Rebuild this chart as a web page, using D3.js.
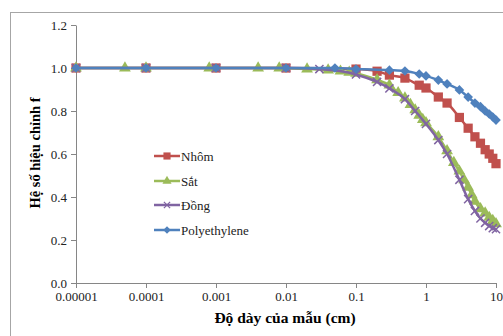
<!DOCTYPE html>
<html>
<head>
<meta charset="utf-8">
<script src="https://cdn.jsdelivr.net/npm/d3@7"></script>
<style>
  body { margin: 0; background: #fff; }
  text { font-family: "Liberation Serif", "Times New Roman", serif; }
</style>
</head>
<body>
<svg id="chart" width="503" height="336"></svg>
<script>
// data
const seriesNames = ["Nhôm", "Sắt", "Đồng", "Polyethylene"];

const nhomX = [1e-5, 1e-4, 1e-3, 1e-2, 0.1, 0.2, 0.3, 0.5, 0.8, 1, 1.5, 2, 3, 4, 5, 6, 7, 8, 9, 10];
const nhomY = [1.0, 1.0, 1.0, 1.0, 0.995, 0.985, 0.967, 0.953, 0.92, 0.907, 0.865, 0.837, 0.77, 0.72, 0.68, 0.65, 0.62, 0.60, 0.58, 0.555];

const satX = [1e-5, 5e-5, 1e-4, 8e-4, 4e-3, 8e-3, 0.02, 0.04, 0.06, 0.08, 0.1, 0.2, 0.3, 0.4, 0.5, 0.6, 0.7, 0.8, 0.9, 1,
              1.5, 2, 2.5, 3, 3.5, 4, 4.5, 5, 6, 7, 8, 9, 10];
const satY = [1.0, 1.0, 1.0, 1.0, 1.0, 1.0, 0.995, 0.99, 0.985, 0.98, 0.975, 0.945, 0.92, 0.885, 0.86, 0.83, 0.805, 0.78, 0.76, 0.745,
              0.68, 0.615, 0.56, 0.52, 0.48, 0.445, 0.41, 0.38, 0.345, 0.325, 0.305, 0.29, 0.275];

const dongX = [1e-5, 1e-4, 1e-3, 1e-2, 0.03, 0.1, 0.2, 0.3, 0.5, 0.7, 1, 1.5, 2, 3, 4, 5, 6, 7, 8, 9, 10];
const dongY = [1.0, 1.0, 1.0, 1.0, 0.995, 0.97, 0.935, 0.905, 0.855, 0.8, 0.74, 0.665, 0.6, 0.48, 0.39, 0.335, 0.3, 0.28, 0.265, 0.255, 0.25];

const peX = [1e-5, 1e-4, 1e-3, 1e-2, 0.05, 0.1, 0.3, 0.5, 0.8, 1, 1.5, 2, 3, 4, 5, 6, 7, 8, 9, 10];
const peY = [1.0, 1.0, 1.0, 1.0, 1.0, 0.995, 0.99, 0.986, 0.972, 0.963, 0.944, 0.926, 0.898, 0.865, 0.837, 0.82, 0.80, 0.786, 0.772, 0.758];

const xTicks = [1e-5, 1e-4, 1e-3, 1e-2, 0.1, 1, 10];
const xTickLabels = ["0.00001", "0.0001", "0.001", "0.01", "0.1", "1", "10"];
const yTicks = [0, 0.2, 0.4, 0.6, 0.8, 1.0, 1.2];

const colors = ["#C0504D", "#9BBB59", "#8064A2", "#4F81BD"];
const symbols = [d3.symbolSquare, d3.symbolTriangle, d3.symbolX, d3.symbolDiamond2];
const symSizes = [85, 60, 45, 60];

const svg = d3.select("#chart");

// outer chart border (runs off the right and bottom of the picture)
svg.append("rect")
  .attr("x", 10.5).attr("y", 12.5)
  .attr("width", 600).attr("height", 400)
  .attr("fill", "none").attr("stroke", "#a6a6a6");

const x = d3.scaleLog().domain([1e-5, 10]).range([76, 496]);
const y = d3.scaleLinear().domain([0, 1.2]).range([283, 25]);

// axes
const xAxis = svg.append("g")
  .attr("transform", "translate(0,283)")
  .call(d3.axisBottom(x).tickValues(xTicks).tickFormat((d, i) => xTickLabels[i]).tickSize(5).tickSizeOuter(0));
const yAxis = svg.append("g")
  .attr("transform", "translate(76,0)")
  .call(d3.axisLeft(y).tickValues(yTicks).tickFormat(d3.format(".1f")).tickSize(5).tickSizeOuter(0));

[xAxis, yAxis].forEach(a => {
  a.select(".domain").attr("stroke", "#868686");
  a.selectAll(".tick line").attr("stroke", "#868686");
  a.selectAll(".tick text")
    .attr("fill", "#222")
    .style("font-family", "'Liberation Serif', serif")
    .style("font-size", "13px");
});
xAxis.selectAll(".tick text").attr("dy", "0.71em").attr("y", 9);
yAxis.selectAll(".tick text").attr("x", -9);

// axis titles
svg.append("text")
  .attr("x", 285).attr("y", 323)
  .attr("text-anchor", "middle")
  .style("font-size", "15.5px").style("font-weight", "bold")
  .text("Độ dày của mẫu (cm)");

svg.append("text")
  .attr("transform", "translate(40,153) rotate(-90)")
  .attr("text-anchor", "middle")
  .style("font-size", "14.5px").style("font-weight", "bold")
  .text("Hệ số hiệu chỉnh f");

// series
const allX = [nhomX, satX, dongX, peX];
const allY = [nhomY, satY, dongY, peY];

const line = d3.line()
  .x(d => x(d[0]))
  .y(d => y(d[1]))
  .curve(d3.curveMonotoneX);

seriesNames.forEach((name, i) => {
  const pts = allX[i].map((v, j) => [v, allY[i][j]]);
  const g = svg.append("g");
  g.append("path")
    .datum(pts)
    .attr("d", line)
    .attr("fill", "none")
    .attr("stroke", colors[i])
    .attr("stroke-width", 2.5);
  const sym = d3.symbol().type(symbols[i]).size(symSizes[i]);
  g.selectAll("path.mk")
    .data(pts)
    .join("path")
    .attr("class", "mk")
    .attr("transform", d => `translate(${x(d[0])},${y(d[1])})`)
    .attr("d", sym)
    .attr("fill", i === 2 ? "none" : colors[i])
    .attr("stroke", colors[i])
    .attr("stroke-width", i === 2 ? 1.5 : 0);
});

// legend
const legendY = [156, 181, 205, 230];
const legend = svg.append("g");
seriesNames.forEach((name, i) => {
  const row = legend.append("g").attr("transform", `translate(0,${legendY[i]})`);
  row.append("line")
    .attr("x1", 154).attr("x2", 180)
    .attr("stroke", colors[i]).attr("stroke-width", 2.5);
  row.append("path")
    .attr("transform", "translate(167,0)")
    .attr("d", d3.symbol().type(symbols[i]).size(symSizes[i] * 0.6))
    .attr("fill", i === 2 ? "none" : colors[i])
    .attr("stroke", colors[i])
    .attr("stroke-width", i === 2 ? 1.2 : 0);
  row.append("text")
    .attr("x", 181).attr("y", 0).attr("dy", "0.35em")
    .attr("fill", "#222")
    .style("font-size", "13px")
    .text(name);
});
</script>
</body>
</html>
